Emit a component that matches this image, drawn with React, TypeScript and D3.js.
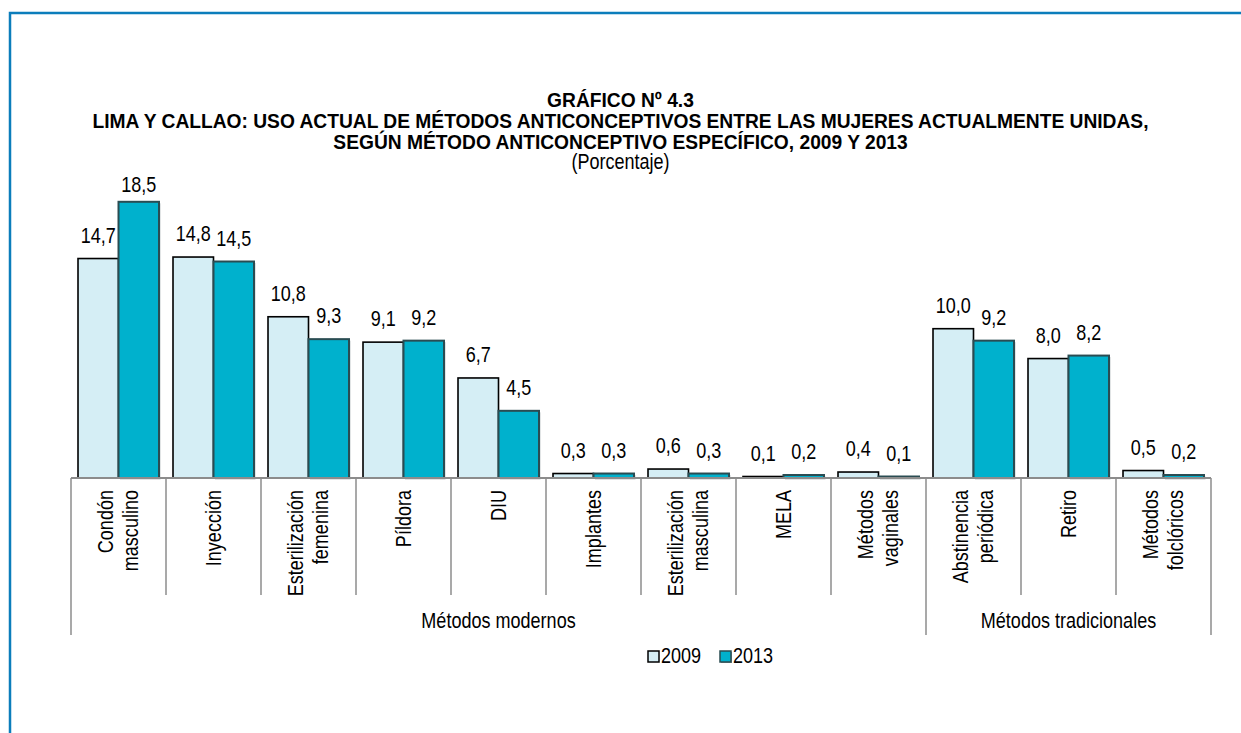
import * as d3 from "d3";
import React from "react";

const categories = [
  ["Condón", "masculino"],
  ["Inyección"],
  ["Esterilización", "femenina"],
  ["Píldora"],
  ["DIU"],
  ["Implantes"],
  ["Esterilización", "masculina"],
  ["MELA"],
  ["Métodos", "vaginales"],
  ["Abstinencia", "periódica"],
  ["Retiro"],
  ["Métodos", "folclóricos"],
];
const years = ["2009", "2013"];
const values2009 = [14.7, 14.8, 10.8, 9.1, 6.7, 0.3, 0.6, 0.1, 0.4, 10.0, 8.0, 0.5];
const values2013 = [18.5, 14.5, 9.3, 9.2, 4.5, 0.3, 0.3, 0.2, 0.1, 9.2, 8.2, 0.2];
const groups = [
  { name: "Métodos modernos", from: 0, to: 9 },
  { name: "Métodos tradicionales", from: 9, to: 12 },
];
const titleLines = [
  "GRÁFICO Nº 4.3",
  "LIMA Y CALLAO: USO ACTUAL DE MÉTODOS ANTICONCEPTIVOS ENTRE LAS MUJERES ACTUALMENTE UNIDAS,",
  "SEGÚN MÉTODO ANTICONCEPTIVO ESPECÍFICO, 2009 Y 2013",
];

const W = 1241, H = 733;
const FONT = "'Liberation Sans', Arial, sans-serif";
const FS = 22;   // label font size
const SX = 0.82; // horizontal squeeze, to look like Arial Narrow
const C09 = "#d5eef5";
const C13 = "#00b1cd";

// text squeezed horizontally
function NText({ x, y, rot = 0, anchor = "middle", size = FS, sx = SX, weight = "normal", children }: any) {
  return (
    <text transform={`translate(${x},${y}) rotate(${rot}) scale(${sx},1)`} textAnchor={anchor}
      fontSize={size} fontWeight={weight}>
      {children}
    </text>
  );
}

export default function App() {
  const idx = categories.map((_, i) => String(i));
  const x0 = d3.scaleBand().domain(idx).range([71, 1211]);
  const x1 = d3.scaleBand().domain(years).range([0, x0.bandwidth()]).paddingOuter(0.173);
  const y = d3.scaleLinear().domain([0, 20]).range([478, 179.4]);
  const base = y(0);
  const series = [values2009, values2013];
  const fmt = (v: number) => v.toFixed(1).replace(".", ",");

  return (
    <svg width={W} height={H} style={{ position: "absolute", left: 0, top: 0, background: "#fff" }}
      fontFamily={FONT}>
      <rect x={10} y={13} width={1400} height={900} fill="none" stroke="#0b7dbb" strokeWidth={2.5} />

      {titleLines.map((t, i) => (
        <NText key={i} x={W / 2} y={107 + i * 21} size={21} sx={0.915} weight="bold">{t}</NText>
      ))}
      <NText x={W / 2} y={169}>(Porcentaje)</NText>

      {/* bars */}
      {idx.map((c, i) => (
        <g key={c} transform={`translate(${x0(c)},0)`}>
          {years.map((yr, k) => {
            const v = series[k][i];
            const bx = x1(yr)!;
            const top = y(v);
            return (
              <g key={yr}>
                {k === 1 && (
                  <rect x={bx + 1.5} y={top + 1.5} width={x1.bandwidth()} height={base - top}
                    fill="#9aa5a8" opacity={0.6} />
                )}
                <rect x={bx} y={top} width={x1.bandwidth()} height={base - top}
                  fill={k === 0 ? C09 : C13} stroke={k === 0 ? "#000" : "#2a4c52"} strokeWidth={k === 0 ? 1.6 : 2} />
                <NText x={bx + x1.bandwidth() / 2} y={Math.max(top - 16, 192)}>{fmt(v)}</NText>
              </g>
            );
          })}
        </g>
      ))}

      {/* axis */}
      <line x1={71} x2={1211} y1={base} y2={base} stroke="#8c8c8c" strokeWidth={2} />
      {d3.range(categories.length + 1).map((i) => {
        const xx = i < categories.length ? x0(String(i))! : x0.range()[1];
        const isGroup = groups.some((g) => g.from === i || g.to === i);
        return (
          <line key={i} x1={xx} x2={xx} y1={base} y2={isGroup ? 635 : 595} stroke="#8c8c8c" strokeWidth={1.5} />
        );
      })}

      {/* category labels */}
      {categories.map((lines, i) => {
        const cx = x0(String(i))! + x0.bandwidth() / 2;
        return (
          <NText key={i} x={cx} y={490} rot={-90} anchor="end">
            {lines.map((l, j) => (
              <tspan key={j} x={0} y={(j - (lines.length - 1) / 2) * 25 + 7}>{l}</tspan>
            ))}
          </NText>
        );
      })}

      {/* group labels */}
      {groups.map((g) => {
        const a = x0(String(g.from))!;
        const b = g.to < categories.length ? x0(String(g.to))! : x0.range()[1];
        return <NText key={g.name} x={(a + b) / 2} y={628}>{g.name}</NText>;
      })}

      {/* legend */}
      <g transform="translate(648,651)">
        <rect x={0} y={0} width={11} height={11} fill={C09} stroke="#000" strokeWidth={1.5} />
        <NText x={13} y={12} anchor="start">2009</NText>
        <rect x={73} y={1} width={11} height={11} fill="#555" opacity={0.6} />
        <rect x={72} y={0} width={11} height={11} fill={C13} stroke="#2a4c52" strokeWidth={1.5} />
        <NText x={85} y={12} anchor="start">2013</NText>
      </g>
    </svg>
  );
}
